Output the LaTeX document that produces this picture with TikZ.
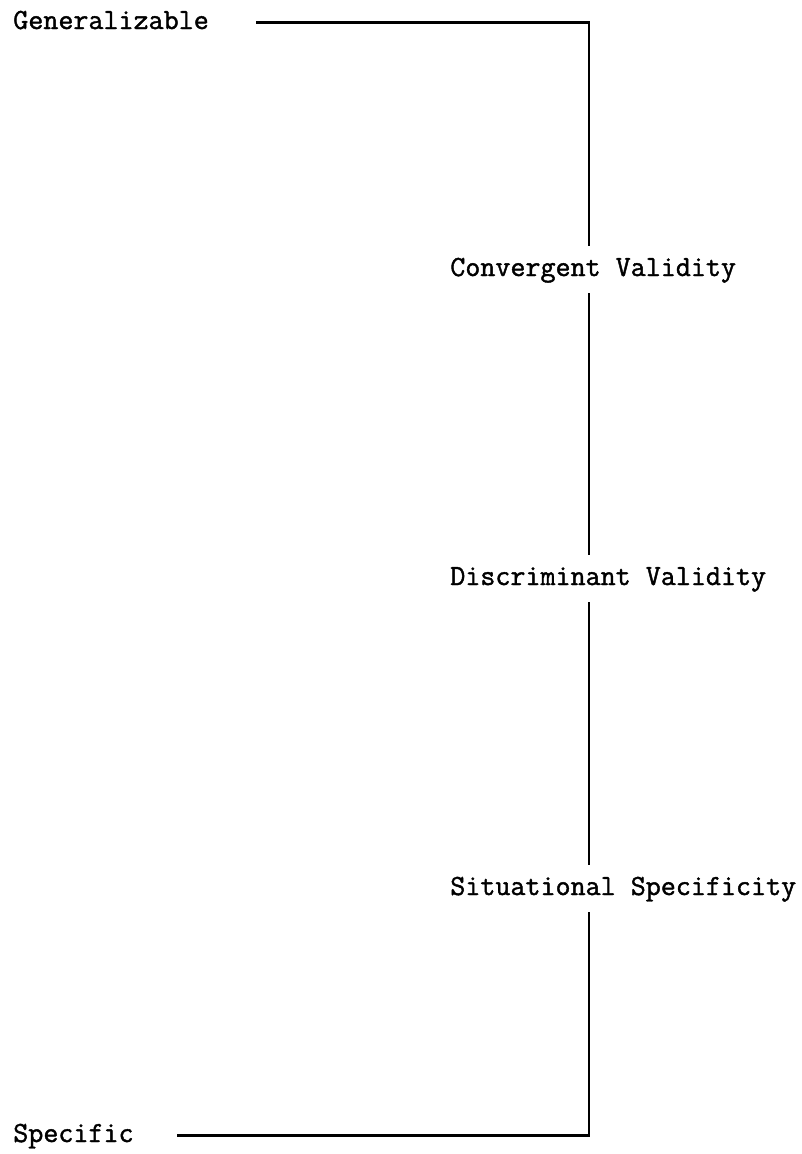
\documentclass[tikz,border=0pt]{standalone}
\usepackage{fontspec}
\newfontfamily\labelfont[FakeBold=1.4]{Latin Modern Mono}
\begin{document}
\begin{tikzpicture}
		[x=1pt,y=1pt,line width=2.6pt,every node/.style={inner sep=0pt,anchor=base west,text height=29pt,text depth=16pt,font=\fontsize{29.2}{34}\labelfont}] % all labels are plain typewriter text, the lines stop at the node boundaries

		\useasboundingbox (0,0) rectangle (801,-1154);

		\node (gen) at (12,-29) {Generalizable};
		\node (conv) at (449,-276) {Convergent Validity};
		\node (disc) at (449,-585) {Discriminant Validity};
		\node (sit) at (449,-895) {Situational Specificity};
		\node (spec) at (12,-1142) {Specific};

		\coordinate (spine) at (589,-21);

		\draw [shorten <=46pt] (gen.east) -| (conv.north -| spine);
		\draw (conv.south -| spine) -- (disc.north -| spine);
		\draw (disc.south -| spine) -- (sit.north -| spine);
		\draw [shorten >=42pt] (sit.south -| spine) |- (spec.east);

	\end{tikzpicture}
\end{document}
